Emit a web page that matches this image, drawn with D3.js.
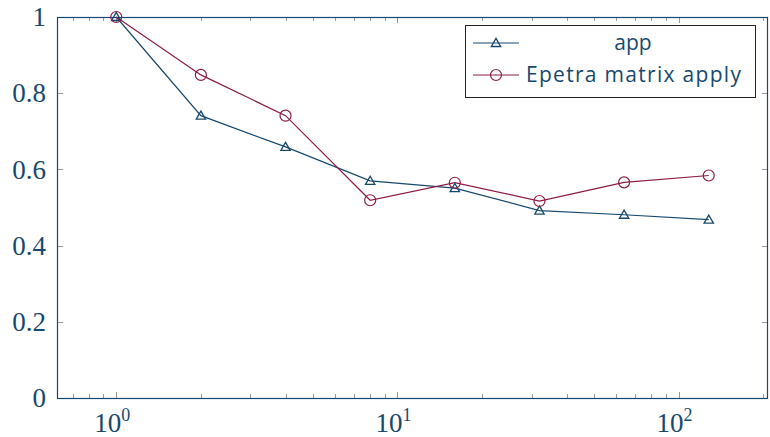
<!DOCTYPE html>
<html>
<head>
<meta charset="utf-8">
<script src="https://cdn.jsdelivr.net/npm/d3@7"></script>
<style>
  body { margin: 0; background: #fff; }
  .num { font-family: "Liberation Serif", "Times New Roman", serif; }
  .leg { font-family: "Open Sans", "Noto Sans", sans-serif; }
</style>
</head>
<body>
<div id="chart"></div>
<script>
const WIDTH = 770;
const HEIGHT = 437;

// data
const xValues = [1, 2, 4, 8, 16, 32, 64, 128];
const appValues = [1.0, 0.741, 0.659, 0.570, 0.551, 0.492, 0.481, 0.468];
const epetraValues = [1.0, 0.848, 0.741, 0.519, 0.565, 0.517, 0.566, 0.584];
const seriesNames = ["app", "Epetra matrix apply"];
const yTicks = [0, 0.2, 0.4, 0.6, 0.8, 1];
const xTicks = [1, 10, 100];

const BLUE = "#17496e";
const RED = "#8c1c44";
const TEXT = "#17496e";

const margin = {left: 57, right: 2, top: 17, bottom: 39};

const svg = d3.select("#chart").append("svg")
    .attr("width", WIDTH)
    .attr("height", HEIGHT);

// pgfplots-style enlarged log limits
const lo = Math.log10(1), hi = Math.log10(128);
const pad = (hi - lo) * 0.1;
const x = d3.scaleLog()
    .domain([Math.pow(10, lo - pad), Math.pow(10, hi + pad)])
    .range([margin.left, WIDTH - margin.right]);

const y = d3.scaleLinear()
    .domain([0, 1])
    .range([HEIGHT - margin.bottom, margin.top]);

const x0 = margin.left, x1 = WIDTH - margin.right;
const y0 = HEIGHT - margin.bottom, y1 = margin.top;

// minor x ticks
const minor = [];
for (let e = -1; e <= 2; e++) {
    for (let m = 1; m <= 9; m++) {
        const v = m * Math.pow(10, e);
        if (v >= x.domain()[0] && v <= x.domain()[1]) minor.push(v);
    }
}

const ticks = svg.append("g").attr("stroke", "#9a9a9a").attr("stroke-width", 1);
minor.forEach(v => {
    const big = xTicks.includes(v);
    const len = big ? 6 : 4;
    const px = Math.round(x(v)) + 0.5;
    ticks.append("line").attr("x1", px).attr("x2", px).attr("y1", y0).attr("y2", y0 - len);
    ticks.append("line").attr("x1", px).attr("x2", px).attr("y1", y1).attr("y2", y1 + len);
});
yTicks.forEach(v => {
    const py = Math.round(y(v)) + 0.5;
    ticks.append("line").attr("x1", x0).attr("x2", x0 + 6).attr("y1", py).attr("y2", py);
    ticks.append("line").attr("x1", x1).attr("x2", x1 - 6).attr("y1", py).attr("y2", py);
});

// frame
svg.append("rect")
    .attr("x", x0 + 0.5).attr("y", y1 + 0.5)
    .attr("width", x1 - x0 - 1).attr("height", y0 - y1)
    .attr("fill", "none")
    .attr("stroke", BLUE)
    .attr("stroke-width", 1.2);

// y labels
svg.append("g").selectAll("text").data(yTicks).enter().append("text")
    .attr("class", "num")
    .attr("x", x0 - 11)
    .attr("y", d => y(d))
    .attr("dy", "0.34em")
    .attr("text-anchor", "end")
    .attr("fill", TEXT)
    .attr("font-size", 27)
    .text(d => d3.format("")(d));

// x labels 10^n
const xl = svg.append("g").selectAll("text").data(xTicks).enter().append("text")
    .attr("class", "num")
    .attr("x", d => x(d) - 4)
    .attr("y", 432)
    .attr("text-anchor", "middle")
    .attr("fill", TEXT)
    .attr("font-size", 27);
xl.append("tspan").text("10");
xl.append("tspan").attr("dy", -11).attr("font-size", 18).text(d => Math.round(Math.log10(d)));

// lines
const line = d3.line().x(d => x(d[0])).y(d => y(d[1]));
const appData = xValues.map((v, i) => [v, appValues[i]]);
const epData = xValues.map((v, i) => [v, epetraValues[i]]);

svg.append("path").datum(appData)
    .attr("d", line).attr("fill", "none").attr("stroke", BLUE).attr("stroke-width", 1.2);
svg.append("path").datum(epData)
    .attr("d", line).attr("fill", "none").attr("stroke", RED).attr("stroke-width", 1.2);

const tri = d3.symbol().type(d3.symbolTriangle).size(38);

function triangle(g, cx, cy) {
    g.append("path").attr("d", tri())
        .attr("transform", `translate(${cx},${cy + 0.8})`)
        .attr("fill", "none").attr("stroke", BLUE).attr("stroke-width", 1.3);
}
function circle(g, cx, cy) {
    g.append("circle").attr("cx", cx).attr("cy", cy).attr("r", 5.5)
        .attr("fill", "none").attr("stroke", RED).attr("stroke-width", 1.2);
}

const marks = svg.append("g");
appData.forEach(d => triangle(marks, x(d[0]), y(d[1])));
epData.forEach(d => circle(marks, x(d[0]), y(d[1])));

// legend
const lg = svg.append("g");
lg.append("rect")
    .attr("x", 465.5).attr("y", 25.5).attr("width", 290).attr("height", 72)
    .attr("fill", "#fff").attr("stroke", "#222").attr("stroke-width", 1);

const rows = [43, 75];
lg.append("line").attr("x1", 473).attr("x2", 519).attr("y1", rows[0]).attr("y2", rows[0])
    .attr("stroke", BLUE).attr("stroke-width", 1.2);
triangle(lg, 496, rows[0]);
lg.append("line").attr("x1", 473).attr("x2", 519).attr("y1", rows[1]).attr("y2", rows[1])
    .attr("stroke", RED).attr("stroke-width", 1.2);
circle(lg, 496, rows[1]);

lg.append("text").attr("class", "leg").attr("x", 633).attr("y", rows[0]).attr("dy", "0.32em")
    .attr("text-anchor", "middle")
    .attr("fill", TEXT)
    .attr("font-size", 21)
    .text(seriesNames[0]);
lg.append("text").attr("class", "leg").attr("x", 526).attr("y", rows[1]).attr("dy", "0.32em")
    .attr("fill", TEXT)
    .attr("textLength", 215)
    .attr("font-size", 21)
    .text(seriesNames[1]);
</script>
</body>
</html>
